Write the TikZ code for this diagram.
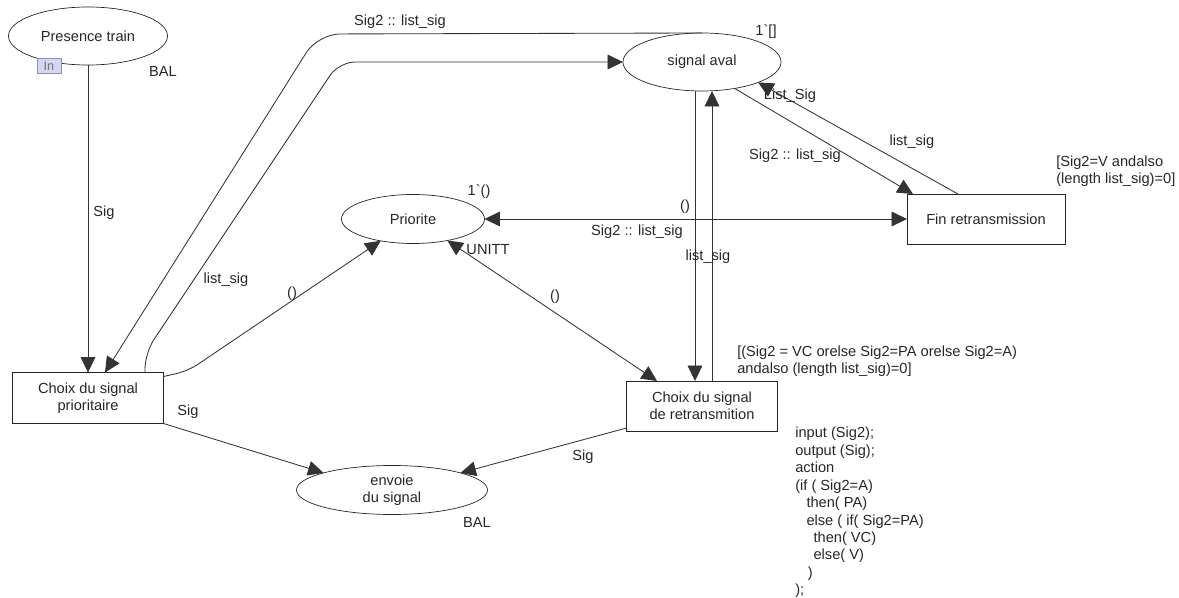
\documentclass[tikz,border=0pt]{standalone}
\usepackage{fontspec}
\setmainfont{Liberation Sans}[Ligatures=TeXOff]
\usetikzlibrary{arrows.meta,positioning,shapes.geometric,calc}
\definecolor{arcgray}{HTML}{333333}
\definecolor{tagfill}{HTML}{D6D6EE}
\definecolor{tagdraw}{HTML}{8C8CC8}
\tikzset{ptip/.tip={Triangle[length=11pt,width=10.5pt]},
    place/.style={
    % The shape:
    ellipse,
    % The border:
    draw=black!85,
    line width=0.5pt,
    inner sep=0pt, outer sep=0pt,
    % Font
    align=center,
    font=\fontsize{10.4}{12.4}\selectfont,
    text=black!85,
    },
    transition/.style={
    rectangle,
    draw=black!85,
    line width=0.5pt,
    inner sep=0pt, outer sep=0pt,
    align=center,
    font=\fontsize{10.4}{12.4}\selectfont,
    text=black!85,
    },
    arc/.style={
    draw=arcgray,
    line width=0.6pt,
    -ptip,
    },
    biarc/.style={
    arc,
    ptip-ptip,
    },
    inscr/.style={
    inner sep=0pt,
    font=\fontsize{10.4}{12.4}\selectfont,
    text=black!85,
    },
    intag/.style={
    rectangle,
    fill=tagfill, draw=tagdraw,
    line width=0.6pt,
    minimum width=0.6cm, minimum height=0.375cm,
    inner sep=0pt,
    font=\fontsize{9}{10}\selectfont,
    text=black!55,
    },
}

\begin{document}
\begin{tikzpicture}[x=0.025cm,y=-0.025cm]
    \useasboundingbox (0,0) rectangle (1179,598);
    % places
    \node (pres)     [place,minimum width=3.975cm,minimum height=1.45cm]  at (88,36)   {Presence train};
    \node (aval)     [place,minimum width=3.95cm,minimum height=1.45cm]   at (702,62)  {signal aval};
    \node (priorite) [place,minimum width=3.575cm,minimum height=1.225cm] at (413,219) {Priorite};
    \node (envoie)   [place,minimum width=4.775cm,minimum height=1.225cm] at (392,490) {envoie\\du signal};
    \node (tagin)    [intag] at (49,66) {In};
    % transitions
    \node (prio)     [transition,minimum width=3.775cm,minimum height=1.275cm] at (88,398)  {Choix du signal\\prioritaire};
    \node (fin)      [transition,minimum width=3.95cm,minimum height=1.25cm]   at (986,219) {Fin retransmission};
    \node (retrans)  [transition,minimum width=3.775cm,minimum height=1.25cm]  at (702,406) {Choix du signal\\de retransmition};
    % arcs
    \draw[arc] (pres.south) -- (prio.north);
    \draw[arc,rounded corners=0.55cm] (aval.north) -- (318,34) -- ($(prio.north)+(17,0)$);
    \draw[arc,rounded corners=0.4cm] ($(prio.north)+(57,0)$) -- (145,353) -- (339,62) -- (aval.west);
    \draw[arc,rounded corners=0.3cm] ($(prio.north east)+(0,4)$) -- (188,371) -- (priorite);
    \draw[arc] ($(aval.south)+(-7,0)$) -- ($(retrans.north)+(-7,0)$);
    \draw[arc] ($(retrans.north)+(10,0)$) -- ($(aval.south)+(10,0)$);
    \draw[arc] (aval.-39) -- ($(fin.north west)+(6,0)$);
    \draw[arc] ($(fin.north west)+(51,0)$) -- (aval.-20);
    \draw[biarc] (priorite.east) -- (fin.west);
    \draw[biarc] (priorite.-32) -- ($(retrans.north)+(-45,0)$);
    \draw[arc] (prio.south east) -- (envoie.166);
    \draw[arc] ($(retrans.south west)+(0,-3)$) -- (envoie.14);
    % inscriptions
    \node (balpres)  [inscr] at (163,71)  {BAL};
    \node (initaval) [inscr] at (766,32)  {1`[]};
    \node (sigpres)  [inscr] at (104,213) {Sig};
    \node (lsback)   [inscr] at (400,22)  {Sig2 :: list\_sig};
    \node (lsfwd)    [inscr] at (226,280) {list\_sig};
    \node (unitprio) [inscr] at (292,294) {()};
    \node (initprio) [inscr] at (479,192) {1`()};
    \node (colprio)  [inscr] at (488,250) {UNITT};
    \node (unitfin)  [inscr] at (685,207) {()};
    \node (lsdown)   [inscr] at (637,232) {Sig2 :: list\_sig};
    \node (lsup)     [inscr] at (708,257) {list\_sig};
    \node (unitret)  [inscr] at (555,297) {()};
    \node (lsbig)    [inscr] at (790,96)  {List\_Sig};
    \node (lsfinup)  [inscr] at (912,142) {list\_sig};
    \node (lsfindn)  [inscr] at (795,156) {Sig2 :: list\_sig};
    \node (sigprio)  [inscr] at (188,412) {Sig};
    \node (sigret)   [inscr] at (583,457) {Sig};
    \node (balenv)   [inscr] at (477,522) {BAL};
    \node (guardfin) [inscr,align=left,anchor=north west,font=\fontsize{10.4}{11.5}\selectfont]
        at (1056,156) {[Sig2=V andalso\\(length list\_sig)=0]};
    \node (guardret) [inscr,align=left,anchor=north west,font=\fontsize{10.4}{11.5}\selectfont]
        at (737,346) {[(Sig2 = VC orelse Sig2=PA orelse Sig2=A)\\andalso (length list\_sig)=0]};
    \node (coderet)  [inscr,align=left,anchor=north west] at (795,427)
        {input (Sig2);\\output (Sig);\\action\\(if ( Sig2=A)\\
         \hspace*{8pt}then( PA)\\\hspace*{8pt}else ( if( Sig2=PA)\\
         \hspace*{13pt}then( VC)\\\hspace*{13pt}else( V)\\
         \hspace*{9pt})\\);};
\end{tikzpicture}
\end{document}
